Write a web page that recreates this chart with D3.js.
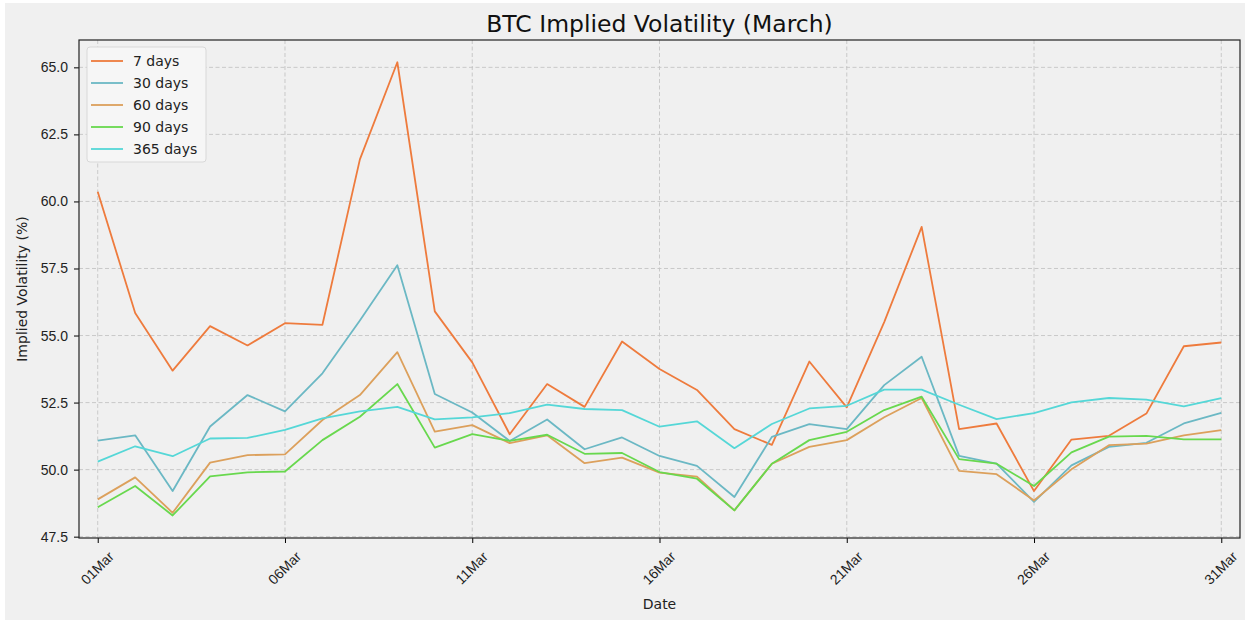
<!DOCTYPE html>
<html>
<head>
<meta charset="utf-8">
<script src="https://cdnjs.cloudflare.com/ajax/libs/d3/7.8.5/d3.min.js"></script>
<style>
  html, body { margin: 0; padding: 0; background: #ffffff; }
  svg { display: block; font-family: "DejaVu Sans", sans-serif; }
</style>
</head>
<body>
<svg width="1250" height="622"></svg>
<script>
// dagen van maart
const days = d3.range(1, 32)
const tickDays = [1, 6, 11, 16, 21, 26, 31]
const yTicks = [47.5, 50.0, 52.5, 55.0, 57.5, 60.0, 62.5, 65.0]

const seriesNames = ['7 days', '30 days', '60 days', '90 days', '365 days']
const seriesColors = ['#ee7b3d', '#6bb8c4', '#dca05c', '#68d84e', '#55d7d7']

const iv7 = [60.36, 55.84, 53.69, 55.35, 54.63, 55.46, 55.40, 61.57, 65.19, 55.90, 54.00, 51.32, 53.19, 52.34, 54.78, 53.75, 52.97, 51.51, 50.92, 54.03, 52.32, 55.50, 59.05, 51.51, 51.72, 49.20, 51.12, 51.26, 52.09, 54.60, 54.74]
const iv30 = [51.08, 51.28, 49.20, 51.61, 52.78, 52.17, 53.59, 55.56, 57.62, 52.82, 52.13, 51.07, 51.87, 50.76, 51.20, 50.51, 50.14, 48.98, 51.22, 51.70, 51.51, 53.15, 54.21, 50.51, 50.22, 48.80, 50.16, 50.85, 51.00, 51.72, 52.12]
const iv60 = [48.89, 49.71, 48.39, 50.26, 50.54, 50.57, 51.85, 52.78, 54.38, 51.42, 51.66, 50.99, 51.28, 50.24, 50.45, 49.89, 49.74, 48.48, 50.22, 50.85, 51.10, 51.95, 52.67, 49.95, 49.83, 48.85, 50.01, 50.91, 50.97, 51.28, 51.47]
const iv90 = [48.60, 49.39, 48.29, 49.75, 49.90, 49.93, 51.10, 51.97, 53.19, 50.82, 51.32, 51.07, 51.30, 50.59, 50.62, 49.91, 49.66, 48.48, 50.22, 51.10, 51.41, 52.22, 52.72, 50.39, 50.22, 49.39, 50.64, 51.23, 51.26, 51.13, 51.13]
const iv365 = [50.30, 50.87, 50.50, 51.16, 51.18, 51.48, 51.91, 52.17, 52.34, 51.87, 51.95, 52.11, 52.42, 52.26, 52.22, 51.60, 51.80, 50.80, 51.70, 52.28, 52.38, 52.98, 52.98, 52.42, 51.88, 52.11, 52.51, 52.67, 52.61, 52.36, 52.67]

const allSeries = [iv7, iv30, iv60, iv90, iv365]

const svg = d3.select('svg')
const width = +svg.attr('width')
const height = +svg.attr('height')

// figuur achtergrond
svg.append('rect')
    .attr('x', 5).attr('y', 3)
    .attr('width', width - 10).attr('height', height - 5)
    .attr('fill', '#f0f0f0')

const margin = {top: 40, right: 10, bottom: 84, left: 79}
const innerWidth = width - margin.left - margin.right
const innerHeight = height - margin.top - margin.bottom

const xscale = d3.scaleLinear()
    .domain([0.5, 31.5])
    .range([0, innerWidth])

const yscale = d3.scaleLinear()
    .domain([47.45, 66.02])
    .range([innerHeight, 0])

const g = svg.append('g')
    .attr('transform', `translate(${margin.left}, ${margin.top})`)

// grid lijnen
g.append('g').selectAll('line').data(yTicks)
    .enter().append('line')
        .attr('x1', 0).attr('x2', innerWidth)
        .attr('y1', d => yscale(d)).attr('y2', d => yscale(d))
        .attr('stroke', '#c4c4c4')
        .attr('stroke-dasharray', '4,2.5')
        .attr('stroke-width', 0.9)

g.append('g').selectAll('line').data(tickDays)
    .enter().append('line')
        .attr('x1', d => xscale(d)).attr('x2', d => xscale(d))
        .attr('y1', 0).attr('y2', innerHeight)
        .attr('stroke', '#c4c4c4')
        .attr('stroke-dasharray', '4,2.5')
        .attr('stroke-width', 0.9)

// lijnen per looptijd
const line = d3.line()
    .x((d, i) => xscale(days[i]))
    .y(d => yscale(d))

g.selectAll('path.serie').data(allSeries)
    .enter().append('path')
        .attr('class', 'serie')
        .attr('d', d => line(d))
        .attr('fill', 'none')
        .attr('stroke', (d, i) => seriesColors[i])
        .attr('stroke-width', 1.8)
        .attr('stroke-linejoin', 'round')

// assen
const xAxis = d3.axisBottom(xscale)
    .tickValues(tickDays)
    .tickSize(5)
    .tickPadding(0)
    .tickFormat(d => String(d).padStart(2, '0') + 'Mar')

const xg = g.append('g')
    .attr('transform', `translate(0, ${innerHeight})`)
    .call(xAxis)
xg.select('.domain').remove()
xg.selectAll('line').attr('stroke', '#000')
xg.selectAll('text')
    .attr('font-size', 14)
    .attr('fill', '#222')
    .attr('text-anchor', 'middle')
    .attr('y', 0)
    .attr('dy', '0.35em')
    .attr('transform', 'translate(-1, 30) rotate(-45)')

const yAxis = d3.axisLeft(yscale)
    .tickValues(yTicks)
    .tickSize(5)
    .tickPadding(6)
    .tickFormat(d3.format('.1f'))

const yg = g.append('g').call(yAxis)
yg.select('.domain').remove()
yg.selectAll('line').attr('stroke', '#000')
yg.selectAll('text').attr('font-size', 14).attr('fill', '#222')

// kader
g.append('rect')
    .attr('width', innerWidth).attr('height', innerHeight)
    .attr('fill', 'none')
    .attr('stroke', '#222')
    .attr('stroke-width', 1.2)

// titels
svg.append('text')
    .attr('x', margin.left + innerWidth / 2).attr('y', 32)
    .attr('text-anchor', 'middle')
    .attr('font-size', 23.5)
    .attr('fill', '#111')
    .text('BTC Implied Volatility (March)')

svg.append('text')
    .attr('x', margin.left + innerWidth / 2).attr('y', 609)
    .attr('text-anchor', 'middle')
    .attr('font-size', 14)
    .attr('fill', '#222')
    .text('Date')

svg.append('text')
    .attr('transform', `translate(27, ${margin.top + innerHeight / 2}) rotate(-90)`)
    .attr('text-anchor', 'middle')
    .attr('font-size', 14)
    .attr('fill', '#222')
    .text('Implied Volatility (%)')

// legenda
const legend = g.append('g').attr('transform', 'translate(8, 7)')
legend.append('rect')
    .attr('width', 119).attr('height', 115)
    .attr('rx', 3)
    .attr('fill', '#f6f6f6')
    .attr('stroke', '#d8d8d8')

const items = legend.selectAll('g.item').data(seriesNames)
    .enter().append('g')
        .attr('class', 'item')
        .attr('transform', (d, i) => `translate(0, ${14 + i * 22})`)
items.append('line')
    .attr('x1', 4).attr('x2', 36)
    .attr('stroke', (d, i) => seriesColors[i])
    .attr('stroke-width', 1.8)
items.append('text')
    .attr('x', 46)
    .attr('dy', '0.35em')
    .attr('font-size', 14)
    .attr('fill', '#222')
    .text(d => d)
</script>
</body>
</html>
